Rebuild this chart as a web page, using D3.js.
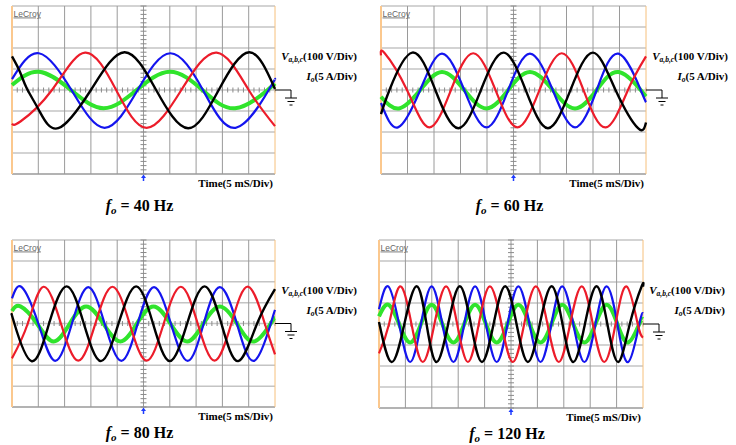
<!DOCTYPE html>
<html>
<head>
<meta charset="utf-8">
<script src="https://cdn.jsdelivr.net/npm/d3@7"></script>
<style>
  body { margin: 0; background: #fff; }
  svg { display: block; }
</style>
</head>
<body>
<div id="chart"></div>
<script>
// Scope captures: time in ms, phase voltages in V, load current in A
const freqs = [40, 60, 80, 120];
const msPerDiv = 5, voltsPerDiv = 100, ampsPerDiv = 5;
const hDivs = 10, vDivs = 8;

// 40 Hz
const va40 = [[0,52],[5.1,175],[11.3,0],[17.6,-180],[23.9,0],[30.1,175],[36.3,0],[42.5,-180],[48.8,0],[50,52]];
const vb40 = [[0,-160],[1.6,-150],[7.6,0],[13.9,178],[19.8,0],[25.6,-180],[32.2,0],[38.9,178],[45.0,0],[50,-172]];
const vc40 = [[0,160],[1.5,87],[2.8,8],[5.1,-95],[8.8,-182],[15.0,0],[21.4,180],[27.4,0],[33.5,-182],[39.3,0],[45.1,180],[50,5]];
const io40 = [[0,1.2],[5.1,4.35],[11.2,0],[17.4,-4.35],[23.7,0],[30.0,4.35],[36.2,0],[42.4,-4.35],[48.6,0],[50,1.5]];

// 60 Hz
const va60 = [[0,-62],[3.2,-178],[7.4,0],[11.5,173],[15.7,0],[19.9,-178],[24.0,0],[28.1,173],[32.4,0],[36.6,-178],[40.7,0],[44.8,173],[49.0,0],[50,-58]];
const vb60 = [[0,165],[0.7,175],[4.9,0],[9.1,-178],[13.2,0],[17.4,175],[21.6,0],[25.75,-178],[29.9,0],[34.1,175],[38.2,0],[42.4,-178],[46.6,0],[50,160]];
const vc60 = [[0,-115],[1.6,0],[5.9,178],[10.25,0],[14.6,-182],[18.85,0],[23.1,178],[27.3,0],[31.5,-182],[35.75,0],[40.0,178],[44.25,0],[48.5,-182],[50,-155]];
const io60 = [[0,-1.6],[3.4,-4.4],[7.4,0],[11.5,4.3],[15.7,0],[19.9,-4.4],[24.0,0],[28.1,4.3],[32.4,0],[36.6,-4.4],[40.7,0],[44.8,4.3],[49.0,0],[50,-1.5]];

// 80 Hz
const va80 = [[0,120],[1.84,174],[5.0,0],[8.2,-179],[11.4,0],[14.5,174],[17.6,0],[20.8,-179],[23.9,0],[27.0,174],[30.2,0],[33.4,-179],[36.45,0],[39.5,174],[42.75,0],[46.0,-179],[49.2,0],[50,65]];
const vb80 = [[0,-167],[3.0,0],[6.0,176],[9.3,0],[12.6,-178],[15.85,0],[19.1,176],[22.35,0],[25.6,-178],[28.85,0],[32.1,176],[35.3,0],[38.5,-178],[41.7,0],[44.9,176],[48.05,0],[50,-148]];
const vc80 = [[0,40],[0.45,0],[3.7,-180],[7.05,0],[10.4,178],[13.65,0],[16.9,-180],[20.25,0],[23.6,178],[26.8,0],[30.0,-180],[33.3,0],[36.6,178],[39.8,0],[43.0,-180],[46.6,0],[50,165]];
const io80 = [[0,3.0],[1.6,4.1],[4.75,0],[7.9,-4.3],[11.0,0],[14.1,4.1],[17.35,0],[20.6,-4.3],[23.75,0],[26.9,4.1],[30.1,0],[33.3,-4.3],[36.4,0],[39.5,4.1],[42.75,0],[46.0,-4.3],[49.2,0],[50,1.4]];

// 120 Hz
const va120 = [[0,70],[1.76,179],[3.8,0],[5.9,-181],[7.95,0],[9.97,179],[12.0,0],[14.1,-181],[16.15,0],[18.2,179],[20.25,0],[22.3,-181],[24.35,0],[26.4,179],[28.5,0],[30.6,-181],[32.65,0],[34.7,179],[36.8,0],[38.9,-181],[41.0,0],[43.1,179],[45.15,0],[47.2,-181],[49.3,0],[50,50]];
const vb120 = [[0,-140],[1.9,0],[3.98,179],[6.15,0],[8.3,-181],[10.5,0],[12.7,179],[14.8,0],[16.85,-181],[18.9,0],[21.0,179],[23.2,0],[25.35,-181],[27.5,0],[29.7,179],[31.9,0],[34.05,-181],[36.2,0],[38.4,179],[40.5,0],[42.65,-181],[44.8,0],[46.9,179],[49.0,0],[50,-65]];
const vc120 = [[0,10],[2.4,-181],[4.8,0],[7.13,180],[9.0,0],[10.9,-181],[13.1,0],[15.3,180],[17.4,0],[19.5,-181],[21.7,0],[23.9,180],[26.05,0],[28.2,-181],[30.45,0],[32.7,180],[34.75,0],[36.8,-181],[39.0,0],[41.2,180],[43.25,0],[45.3,-181],[47.5,0],[49.75,180],[50,178]];
const io120 = [[0,1.8],[1.76,4.6],[3.8,0],[5.9,-4.4],[7.95,0],[9.97,4.6],[12.0,0],[14.1,-4.4],[16.15,0],[18.2,4.6],[20.25,0],[22.3,-4.4],[24.35,0],[26.4,4.6],[28.5,0],[30.6,-4.4],[32.65,0],[34.7,4.6],[36.8,0],[38.9,-4.4],[41.0,0],[43.1,4.6],[45.15,0],[47.2,-4.4],[49.3,0],[50,1.2]];

const traces = [
    { va: va40, vb: vb40, vc: vc40, io: io40 },
    { va: va60, vb: vb60, vc: vc60, io: io60 },
    { va: va80, vb: vb80, vc: vc80, io: io80 },
    { va: va120, vb: vb120, vc: vc120, io: io120 }
];

// screen boxes of the four captures
const boxes = [
    { x: 12,  y: 6,   w: 263, h: 168, capY: 211 },
    { x: 381, y: 6,   w: 265, h: 168, capY: 211 },
    { x: 12,  y: 240, w: 263, h: 167, capY: 438 },
    { x: 379, y: 240, w: 264, h: 168, capY: 439 }
];

const colors = { va: "#1414ee", vb: "#ec1c2a", vc: "#000000", io: "#30e42c" };
const serif = "'Liberation Serif','Times New Roman',serif";

const width = 736, height = 445;
const svg = d3.select("#chart").append("svg")
    .attr("width", width)
    .attr("height", height)
    .attr("viewBox", `0 0 ${width} ${height}`);

boxes.forEach((b, i) => {
    const tMax = msPerDiv * hDivs;
    const vMax = voltsPerDiv * vDivs / 2;
    const iMax = ampsPerDiv * vDivs / 2;
    const x = d3.scaleLinear().domain([0, tMax]).range([b.x, b.x + b.w]);
    const yV = d3.scaleLinear().domain([-vMax, vMax]).range([b.y + b.h, b.y]);
    const yI = d3.scaleLinear().domain([-iMax, iMax]).range([b.y + b.h, b.y]);
    const cx = x(tMax / 2), cy = yV(0);

    const g = svg.append("g");

    // graticule
    g.append("g").selectAll("line")
        .data(d3.range(-vMax, vMax + 1, voltsPerDiv))
        .join("line")
        .attr("x1", b.x).attr("x2", b.x + b.w)
        .attr("y1", d => yV(d)).attr("y2", d => yV(d))
        .style("stroke", (d, j) => j === 0 ? "#9a9a9a" : "#c4c4c4")
        .style("stroke-width", 1.5);

    g.append("g").selectAll("line")
        .data(d3.range(msPerDiv, tMax, msPerDiv))
        .join("line")
        .attr("x1", d => x(d)).attr("x2", d => x(d))
        .attr("y1", b.y).attr("y2", b.y + b.h)
        .style("stroke", "#9a9a9a")
        .style("stroke-width", 1);

    // minor ticks on the centre axes
    g.append("g").selectAll("line")
        .data(d3.range(0, tMax + 0.01, msPerDiv / 5))
        .join("line")
        .attr("x1", d => x(d)).attr("x2", d => x(d))
        .attr("y1", cy - 2.5).attr("y2", cy + 2.5)
        .style("stroke", "#8a8a8a").style("stroke-width", 1);

    g.append("g").selectAll("line")
        .data(d3.range(-vMax, vMax + 1, voltsPerDiv / 5))
        .join("line")
        .attr("x1", cx - 3).attr("x2", cx + 3)
        .attr("y1", d => yV(d)).attr("y2", d => yV(d))
        .style("stroke", "#8a8a8a").style("stroke-width", 1);

    // orange side edges
    g.append("line")
        .attr("x1", b.x).attr("x2", b.x).attr("y1", b.y).attr("y2", b.y + b.h)
        .style("stroke", "#fbc88e").style("stroke-width", 2);
    g.append("line")
        .attr("x1", b.x + b.w).attr("x2", b.x + b.w).attr("y1", b.y).attr("y2", b.y + b.h)
        .style("stroke", "#f6c07c").style("stroke-width", 1);

    // LeCroy mark
    g.append("text")
        .attr("x", b.x + 1.5).attr("y", b.y + 10.5)
        .style("font-family", "'Liberation Sans', Arial, sans-serif")
        .style("font-size", "8.5px")
        .style("fill", "#666")
        .style("text-decoration", "underline")
        .text("LeCroy");

    // traces
    const lineV = d3.line().x(d => x(d[0])).y(d => yV(d[1])).curve(d3.curveNatural);
    const lineI = d3.line().x(d => x(d[0])).y(d => yI(d[1])).curve(d3.curveNatural);
    const tr = traces[i];

    g.append("path").attr("d", lineI(tr.io))
        .style("fill", "none").style("stroke", colors.io).style("stroke-width", 4);
    ["va", "vb", "vc"].forEach(k => {
        g.append("path").attr("d", lineV(tr[k]))
            .style("fill", "none").style("stroke", colors[k])
            .style("stroke-width", k === "vc" ? 2.4 : 2.2);
    });

    // trigger marker
    g.append("path")
        .attr("d", `M${cx - 2.5},${b.y + b.h + 4}L${cx},${b.y + b.h + 0.5}L${cx + 2.5},${b.y + b.h + 4}Z`)
        .style("fill", "#1f3cff");
    g.append("line")
        .attr("x1", cx).attr("x2", cx).attr("y1", b.y + b.h + 3).attr("y2", b.y + b.h + 7)
        .style("stroke", "#1f3cff").style("stroke-width", 1.5);

    // ground reference
    const gx = b.x + b.w + 16;
    g.append("path")
        .attr("d", `M${b.x + b.w},${cy}H${gx}V${cy + 8}M${gx - 6},${cy + 8}H${gx + 6}M${gx - 3.5},${cy + 11.5}H${gx + 3.5}M${gx - 1.5},${cy + 15}H${gx + 1.5}`)
        .style("fill", "none").style("stroke", "#000").style("stroke-width", 1);

    // channel scale labels
    const lx = b.x + b.w + 82;
    const vLab = g.append("text")
        .attr("x", lx).attr("y", cy - 30)
        .attr("text-anchor", "end")
        .style("font-family", serif).style("font-weight", "bold").style("font-size", "11px");
    vLab.append("tspan").style("font-style", "italic").text("V");
    vLab.append("tspan").style("font-style", "italic").style("font-size", "7.5px").attr("dy", 2).text("a,b,c");
    vLab.append("tspan").attr("dy", -2).text("(100 V/Div)");

    const iLab = g.append("text")
        .attr("x", lx).attr("y", cy - 10)
        .attr("text-anchor", "end")
        .style("font-family", serif).style("font-weight", "bold").style("font-size", "11px");
    iLab.append("tspan").style("font-style", "italic").text("I");
    iLab.append("tspan").style("font-style", "italic").style("font-size", "7.5px").attr("dy", 2).text("o");
    iLab.append("tspan").attr("dy", -2).text("(5 A/Div)");

    g.append("text")
        .attr("x", b.x + b.w - 2).attr("y", b.y + b.h + 13)
        .attr("text-anchor", "end")
        .style("font-family", serif).style("font-weight", "bold").style("font-size", "11px")
        .text("Time(5 mS/Div)");

    // caption
    const cap = g.append("text")
        .attr("x", cx - 4).attr("y", b.capY)
        .attr("text-anchor", "middle")
        .style("font-family", serif).style("font-weight", "bold").style("font-size", "16px");
    cap.append("tspan").style("font-style", "italic").text("f");
    cap.append("tspan").style("font-style", "italic").style("font-size", "11px").attr("dy", 3).text("o");
    cap.append("tspan").attr("dy", -3).text(` = ${freqs[i]} Hz`);
});
</script>
</body>
</html>
